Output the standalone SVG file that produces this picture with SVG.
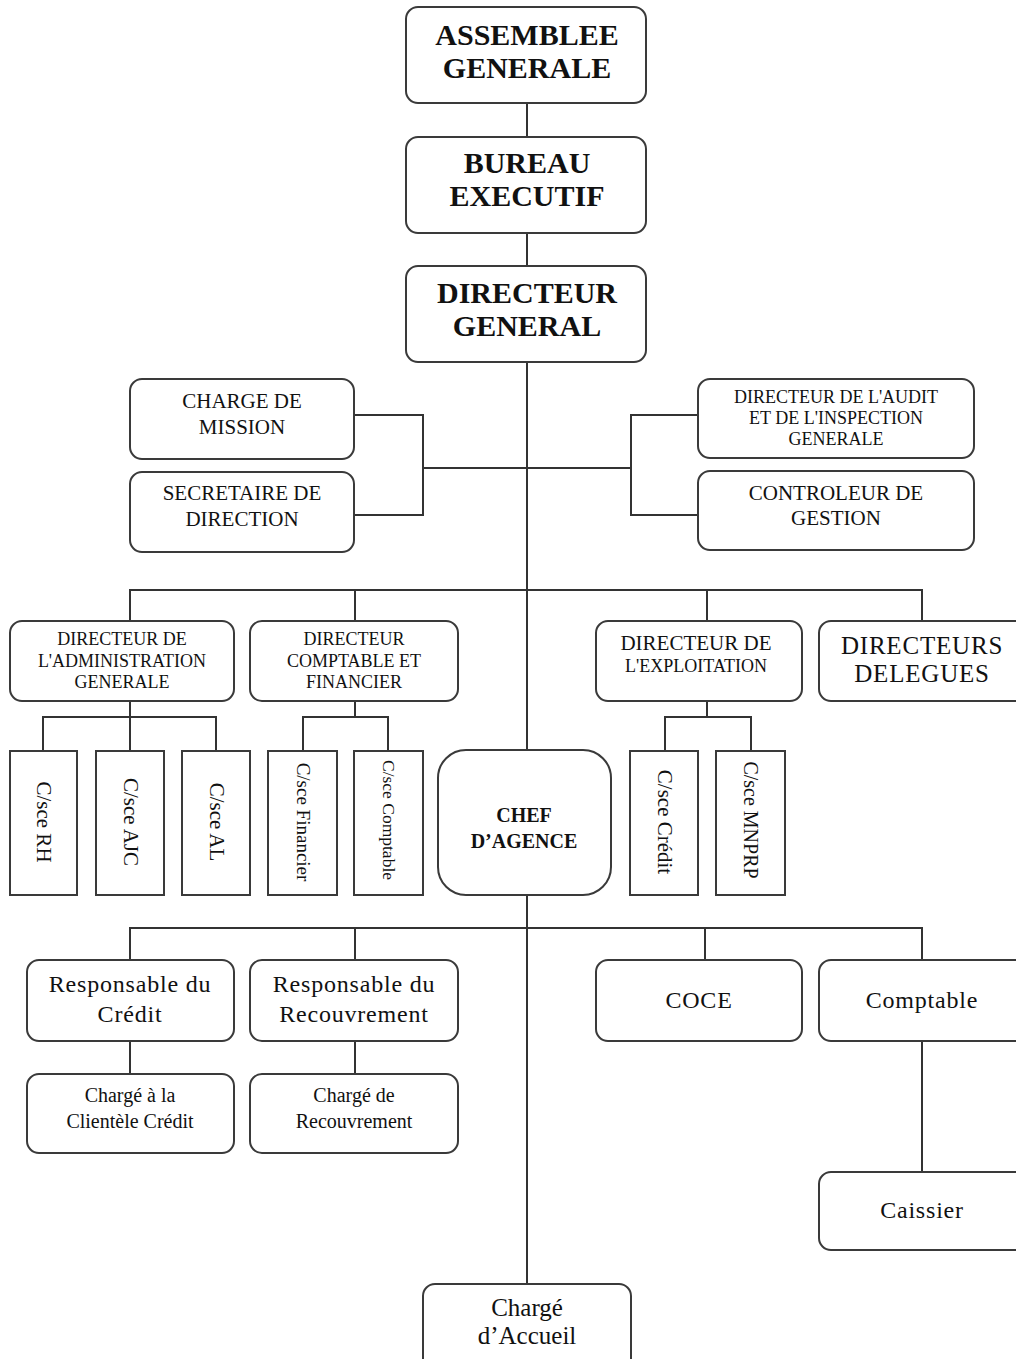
<svg xmlns="http://www.w3.org/2000/svg" width="1016" height="1359" viewBox="0 0 1016 1359">
<style>
.b{fill:#fff;stroke:#3a3a3a;stroke-width:2}
.c{fill:none;stroke:#333;stroke-width:2}
text{font-family:"Liberation Serif","Times New Roman",serif;fill:#111;text-anchor:middle}
.t1{font-size:30px;font-weight:bold}
.t2{font-size:21px}
.t3{font-size:18px}
.t4{font-size:24px;letter-spacing:0.8px}
.t5{font-size:20px}
.v{font-size:21px}
</style>
<rect width="1016" height="1359" fill="#fff"/>
<g id="connectors">
<path class="c" d="M527 103V137M527 233V266M527 362V750M527 895V1284"/>
<path class="c" d="M354 415H423V515H354M423 468H631M698 415H631V515H698"/>
<path class="c" d="M130 621V590H922V621M355 590V621M707 590V621"/>
<path class="c" d="M130 701V717M43 751V717H216V751M130 717V751"/>
<path class="c" d="M355 701V717M303 751V717H388V751"/>
<path class="c" d="M707 701V717M665 751V717H751V751"/>
<path class="c" d="M130 960V928H922V960M355 928V960M705 928V960"/>
<path class="c" d="M130 1040V1074M355 1040V1074M922 1040V1172"/>
</g>
<g id="assemblee"><rect class="b" x="406" y="7" width="240" height="96" rx="12"/><text class="t1" x="527" y="45">ASSEMBLEE</text><text class="t1" x="527" y="78">GENERALE</text></g>
<g id="bureau"><rect class="b" x="406" y="137" width="240" height="96" rx="12"/><text class="t1" x="527" y="173">BUREAU</text><text class="t1" x="527" y="206">EXECUTIF</text></g>
<g id="dg"><rect class="b" x="406" y="266" width="240" height="96" rx="12"/><text class="t1" x="527" y="303">DIRECTEUR</text><text class="t1" x="527" y="336">GENERAL</text></g>
<g id="charge-mission"><rect class="b" x="130" y="379" width="224" height="80" rx="12"/><text class="t2" x="242" y="408">CHARGE DE</text><text class="t2" x="242" y="434">MISSION</text></g>
<g id="secretaire"><rect class="b" x="130" y="472" width="224" height="80" rx="12"/><text class="t2" x="242" y="500">SECRETAIRE DE</text><text class="t2" x="242" y="526">DIRECTION</text></g>
<g id="audit"><rect class="b" x="698" y="379" width="276" height="79" rx="12"/><text class="t3" x="836" y="403">DIRECTEUR DE L'AUDIT</text><text class="t3" x="836" y="424">ET DE L'INSPECTION</text><text class="t3" x="836" y="445">GENERALE</text></g>
<g id="controleur"><rect class="b" x="698" y="471" width="276" height="79" rx="12"/><text class="t2" x="836" y="500">CONTROLEUR DE</text><text class="t2" x="836" y="525">GESTION</text></g>
<g id="dir-admin"><rect class="b" x="10" y="621" width="224" height="80" rx="12"/><text class="t3" x="122" y="645">DIRECTEUR DE</text><text class="t3" x="122" y="667">L'ADMINISTRATION</text><text class="t3" x="122" y="688">GENERALE</text></g>
<g id="dir-compta"><rect class="b" x="250" y="621" width="208" height="80" rx="12"/><text class="t3" x="354" y="645">DIRECTEUR</text><text class="t3" x="354" y="667">COMPTABLE ET</text><text class="t3" x="354" y="688">FINANCIER</text></g>
<g id="dir-exploit"><rect class="b" x="596" y="621" width="206" height="80" rx="12"/><text class="t2" x="696" y="650">DIRECTEUR DE</text><text class="t3" x="696" y="672">L'EXPLOITATION</text></g>
<g id="delegues"><rect class="b" x="819" y="621" width="210" height="80" rx="12"/><text x="922" y="654" style="font-size:25px;letter-spacing:0.8px">DIRECTEURS</text><text x="922" y="682" style="font-size:25px;letter-spacing:0.8px">DELEGUES</text></g>
<g id="sce-rh"><rect class="b" x="10" y="751" width="67" height="144"/><text class="v" transform="translate(37 822) rotate(90)">C/sce RH</text></g>
<g id="sce-ajc"><rect class="b" x="96" y="751" width="68" height="144"/><text class="v" transform="translate(124 822) rotate(90)">C/sce AJC</text></g>
<g id="sce-al"><rect class="b" x="182" y="751" width="68" height="144"/><text class="v" transform="translate(210 822) rotate(90)">C/sce AL</text></g>
<g id="sce-fin"><rect class="b" x="268" y="751" width="69" height="144"/><text class="v" transform="translate(297 822) rotate(90)" style="font-size:19px">C/sce Financier</text></g>
<g id="sce-compta"><rect class="b" x="354" y="751" width="69" height="144"/><text class="v" transform="translate(383 820) rotate(90)" style="font-size:17.5px">C/sce Comptable</text></g>
<g id="chef-agence"><rect class="b" x="438" y="750" width="173" height="145" rx="28"/><text x="524" y="822" style="font-size:20px;font-weight:bold">CHEF</text><text x="524" y="848" style="font-size:20px;font-weight:bold">D’AGENCE</text></g>
<g id="sce-credit"><rect class="b" x="630" y="751" width="68" height="144"/><text class="v" transform="translate(658 822) rotate(90)">C/sce Crédit</text></g>
<g id="sce-mnprp"><rect class="b" x="716" y="751" width="69" height="144"/><text class="v" transform="translate(744 820) rotate(90)" style="font-size:20px">C/sce MNPRP</text></g>
<g id="resp-credit"><rect class="b" x="27" y="960" width="207" height="81" rx="12"/><text class="t4" x="130" y="992">Responsable du</text><text class="t4" x="130" y="1022">Crédit</text></g>
<g id="resp-recouv"><rect class="b" x="250" y="960" width="208" height="81" rx="12"/><text class="t4" x="354" y="992">Responsable du</text><text class="t4" x="354" y="1022">Recouvrement</text></g>
<g id="coce"><rect class="b" x="596" y="960" width="206" height="81" rx="12"/><text class="t4" x="699" y="1008">COCE</text></g>
<g id="comptable"><rect class="b" x="819" y="960" width="210" height="81" rx="12"/><text class="t4" x="922" y="1008">Comptable</text></g>
<g id="charge-clientele"><rect class="b" x="27" y="1074" width="207" height="79" rx="12"/><text class="t5" x="130" y="1102">Chargé à la</text><text class="t5" x="130" y="1128">Clientèle Crédit</text></g>
<g id="charge-recouv"><rect class="b" x="250" y="1074" width="208" height="79" rx="12"/><text class="t5" x="354" y="1102">Chargé de</text><text class="t5" x="354" y="1128">Recouvrement</text></g>
<g id="caissier"><rect class="b" x="819" y="1172" width="210" height="78" rx="12"/><text class="t4" x="922" y="1218">Caissier</text></g>
<g id="charge-accueil"><rect class="b" x="423" y="1284" width="208" height="90" rx="12"/><text x="527" y="1316" style="font-size:25px">Chargé</text><text x="527" y="1344" style="font-size:25px">d’Accueil</text></g>
</svg>
